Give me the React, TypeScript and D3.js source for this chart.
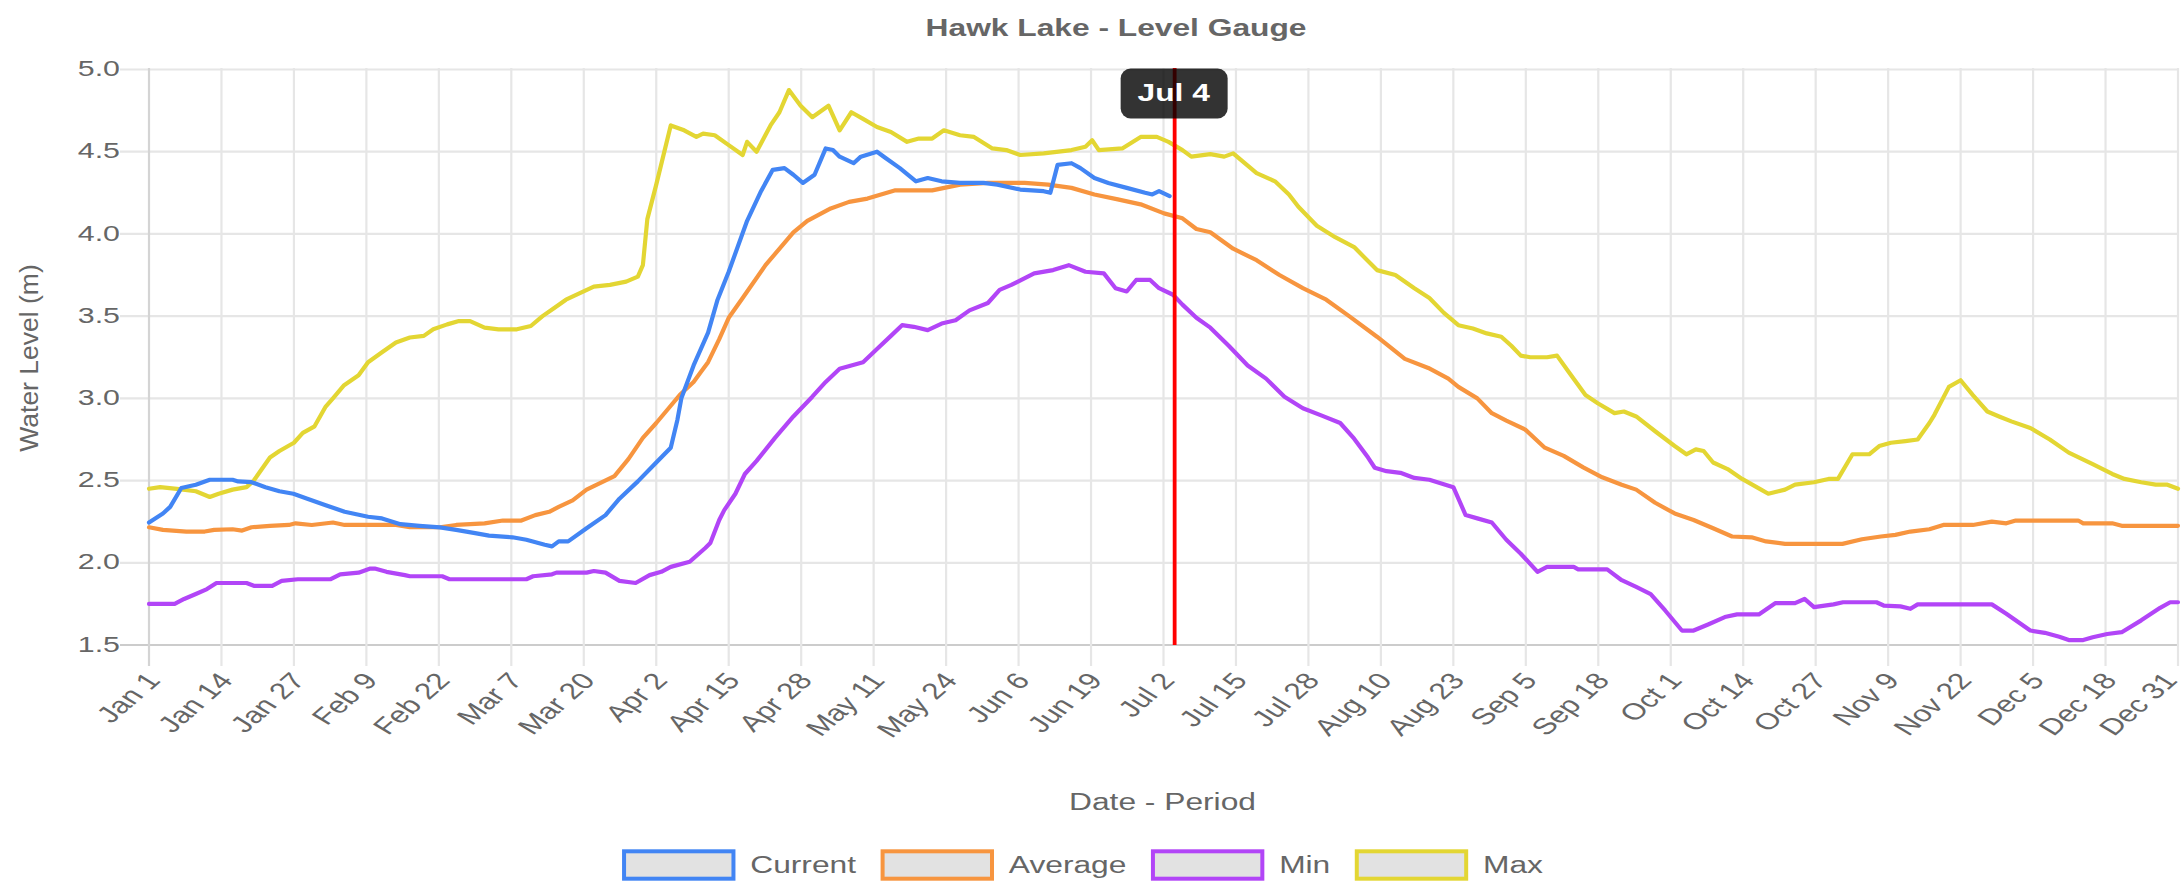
import React, { useMemo } from "react";
import * as d3 from "d3";

// ---------------- data ----------------
const TITLE = "Hawk Lake - Level Gauge";
const X_TITLE = "Date - Period";
const Y_TITLE = "Water Level (m)";
const YEAR = 2021;
const X_TICK_LABELS = [
  "Jan 1", "Jan 14", "Jan 27", "Feb 9", "Feb 22", "Mar 7", "Mar 20", "Apr 2", "Apr 15", "Apr 28",
  "May 11", "May 24", "Jun 6", "Jun 19", "Jul 2", "Jul 15", "Jul 28", "Aug 10", "Aug 23", "Sep 5",
  "Sep 18", "Oct 1", "Oct 14", "Oct 27", "Nov 9", "Nov 22", "Dec 5", "Dec 18", "Dec 31",
];
const Y_TICKS = [1.5, 2.0, 2.5, 3.0, 3.5, 4.0, 4.5, 5.0];
const Y_DOMAIN = [1.5, 5.0];
const MARKER_LABEL = "Jul 4";
const SERIES_NAMES = ["Current", "Average", "Min", "Max"];
const SERIES_COLORS = ["#4285f4", "#f7953f", "#b245f7", "#e3d633"];

// [day of year (0 = Jan 1), water level m]
const CURRENT: [number, number][] = [
  [0, 2.245], [2.5, 2.3], [3.8, 2.34], [5.8, 2.455], [8.4, 2.475], [10.9, 2.505], [15, 2.505], [16, 2.495],
  [18.4, 2.49], [20.9, 2.46], [23.4, 2.435], [25.9, 2.42], [28.4, 2.39], [31.7, 2.35], [35.1, 2.31], [39.3, 2.28],
  [41.8, 2.27], [45.1, 2.235], [48.5, 2.225], [52.2, 2.215], [55.1, 2.2], [58.5, 2.18], [61, 2.165], [65.2, 2.155],
  [67.7, 2.14], [71, 2.11], [72.3, 2.1], [73.5, 2.13], [75.2, 2.13], [78.5, 2.21], [81.9, 2.29], [84.4, 2.39],
  [87.7, 2.495], [91, 2.61], [93.6, 2.7], [94.8, 2.87], [95.5, 3.0], [97.7, 3.2], [100.3, 3.4], [102, 3.6],
  [104, 3.77], [107.3, 4.08], [109.8, 4.26], [111.9, 4.39], [114, 4.4], [115.6, 4.36], [117.3, 4.31], [119.4, 4.36],
  [121.4, 4.52], [122.7, 4.51], [123.9, 4.47], [126.4, 4.43], [127.7, 4.47], [130.6, 4.5], [132.2, 4.46], [134.7, 4.4],
  [137.6, 4.32], [139.7, 4.34], [142.2, 4.32], [145.5, 4.31], [149.7, 4.31], [152.2, 4.3], [156.3, 4.27], [160.5, 4.26],
  [161.7, 4.25], [163, 4.42], [165.5, 4.43], [167.1, 4.4], [169.6, 4.34], [172.1, 4.31], [175.4, 4.28], [178.7, 4.25],
  [180, 4.24], [181.2, 4.26], [183.1, 4.23],
];

const AVERAGE: [number, number][] = [
  [0, 2.216], [2.5, 2.2], [6.7, 2.19], [10, 2.19], [11.7, 2.2], [15, 2.204], [16.7, 2.196], [18.4, 2.216],
  [21.7, 2.225], [25.1, 2.23], [26.3, 2.24], [29.2, 2.23], [33, 2.245], [35.1, 2.23], [44.3, 2.23], [46.8, 2.216],
  [52.2, 2.216], [55.1, 2.23], [60.2, 2.24], [63.5, 2.257], [66.8, 2.257], [69.3, 2.29], [71.8, 2.31], [73.5, 2.34],
  [76, 2.38], [78.5, 2.445], [81, 2.486], [83.5, 2.527], [86, 2.63], [88.6, 2.76], [91, 2.85], [93.6, 2.955],
  [95.2, 3.02], [97.7, 3.1], [99, 3.16], [100.3, 3.22], [102.3, 3.36], [104, 3.49], [106.5, 3.61], [110.6, 3.81],
  [115.6, 4.01], [118.1, 4.08], [122.3, 4.155], [125.6, 4.195], [128.9, 4.215], [133.9, 4.265], [140.5, 4.265], [145.5, 4.3],
  [150.5, 4.31], [157.1, 4.31], [161.3, 4.3], [165.5, 4.28], [169.6, 4.24], [173.8, 4.21], [177.9, 4.18], [182.1, 4.125],
  [185.4, 4.095], [187.9, 4.03], [190.4, 4.01], [194.5, 3.91], [198.7, 3.84], [202.8, 3.75], [207, 3.67], [211.2, 3.6],
  [215.3, 3.5], [220.3, 3.375], [225.3, 3.24], [229.5, 3.185], [233.1, 3.12], [234.9, 3.07], [238.3, 3.0], [240.9, 2.91],
  [243.5, 2.865], [246.9, 2.81], [250.4, 2.7], [253.8, 2.65], [257.3, 2.58], [260.7, 2.52], [264.2, 2.475], [266.8, 2.445],
  [270.2, 2.365], [273.7, 2.3], [277.1, 2.26], [280.6, 2.21], [284, 2.16], [287.5, 2.155], [290.1, 2.13], [293.5, 2.115],
  [303.8, 2.115], [307.3, 2.143], [310.7, 2.16], [313.3, 2.17], [316, 2.19], [319.4, 2.204], [321.9, 2.23], [327.2, 2.23],
  [330.6, 2.25], [333.2, 2.24], [334.9, 2.257], [346.1, 2.257], [347, 2.24], [352.2, 2.24], [353.9, 2.225], [364, 2.225],
];

const MIN: [number, number][] = [
  [0, 1.75], [4.6, 1.75], [6.3, 1.78], [8.4, 1.81], [10.4, 1.84], [12.1, 1.877], [17.5, 1.877], [18.8, 1.86],
  [22.1, 1.86], [23.8, 1.89], [26.7, 1.9], [32.6, 1.9], [34.3, 1.93], [37.6, 1.94], [39.7, 1.965], [40.5, 1.965],
  [42.6, 1.945], [45.9, 1.925], [46.8, 1.918], [52.6, 1.918], [53.9, 1.9], [67.7, 1.9], [68.9, 1.918], [72.3, 1.93],
  [73.1, 1.94], [78.5, 1.94], [79.8, 1.95], [81.9, 1.94], [84.4, 1.89], [87.3, 1.877], [89.8, 1.925], [91.9, 1.945],
  [93.6, 1.975], [97, 2.006], [99.8, 2.09], [100.7, 2.12], [102.3, 2.26], [103.2, 2.32], [105.2, 2.42], [106.9, 2.54],
  [109, 2.62], [112.3, 2.76], [115.6, 2.89], [119, 3.01], [121.4, 3.1], [123.9, 3.18], [128.1, 3.22], [130.6, 3.3],
  [133.1, 3.38], [135.1, 3.445], [137.2, 3.435], [139.7, 3.415], [142.2, 3.455], [144.7, 3.475], [147.2, 3.535], [150.5, 3.58],
  [152.6, 3.66], [154.7, 3.69], [158.8, 3.76], [162.2, 3.78], [165, 3.81], [168, 3.77], [171.3, 3.76], [173.4, 3.67],
  [175.4, 3.65], [177.1, 3.72], [179.6, 3.72], [181.2, 3.67], [183.7, 3.63], [185.4, 3.57], [187.9, 3.49], [190.4, 3.43],
  [193.7, 3.32], [197.1, 3.2], [200.4, 3.12], [203.7, 3.01], [207, 2.94], [210.4, 2.895], [213.7, 2.85], [216.2, 2.755],
  [218.7, 2.64], [219.9, 2.578], [222, 2.557], [224.5, 2.547], [227, 2.516], [229.7, 2.505], [234, 2.46], [236.2, 2.29],
  [238.3, 2.27], [240.9, 2.245], [243.5, 2.14], [246.1, 2.055], [249.1, 1.945], [250.8, 1.975], [255.6, 1.975], [256.4, 1.96],
  [261.6, 1.96], [264.2, 1.894], [266.8, 1.853], [269.4, 1.81], [272, 1.71], [275, 1.588], [277.1, 1.588], [279.7, 1.625],
  [282.7, 1.67], [284.9, 1.686], [288.8, 1.686], [291.8, 1.755], [295.3, 1.755], [297, 1.78], [298.7, 1.73], [302.2, 1.747],
  [303.9, 1.76], [309.9, 1.76], [311.2, 1.74], [314.2, 1.735], [316, 1.72], [317.3, 1.747], [330.6, 1.747], [333.2, 1.69],
  [337.5, 1.588], [340.1, 1.574], [342.7, 1.55], [344.4, 1.53], [347, 1.53], [348.7, 1.547], [351.3, 1.567], [353.9, 1.578],
  [357.4, 1.65], [360.8, 1.726], [362.6, 1.76], [364, 1.76],
];

const MAX: [number, number][] = [
  [0, 2.45], [2, 2.46], [5, 2.45], [8.4, 2.435], [10.9, 2.4], [12.5, 2.42], [15, 2.445], [17.5, 2.46],
  [18.8, 2.5], [21.7, 2.64], [23.4, 2.68], [26, 2.73], [27.6, 2.79], [29.7, 2.83], [31.7, 2.95], [33, 3.0],
  [35, 3.08], [37.6, 3.14], [39.3, 3.22], [41.8, 3.28], [44.3, 3.34], [46.8, 3.37], [49.3, 3.38], [51, 3.42],
  [53.5, 3.45], [55.6, 3.47], [57.6, 3.47], [60.2, 3.43], [62.7, 3.42], [66, 3.42], [68.5, 3.44], [70.6, 3.5],
  [72.7, 3.55], [74.8, 3.6], [77.3, 3.64], [79.8, 3.68], [82.7, 3.69], [85.6, 3.71], [87.7, 3.74], [88.6, 3.81],
  [89.4, 4.09], [91, 4.3], [93.6, 4.66], [96, 4.63], [98.2, 4.59], [99.4, 4.61], [101.5, 4.6], [104, 4.54],
  [106.5, 4.48], [107.3, 4.56], [109, 4.5], [111.5, 4.66], [113.1, 4.74], [114.8, 4.875], [116.9, 4.78], [119, 4.71],
  [121.9, 4.78], [123.9, 4.63], [126, 4.74], [128.1, 4.7], [130.6, 4.65], [133.1, 4.62], [136, 4.56], [138.1, 4.58],
  [140.5, 4.58], [142.6, 4.63], [145.5, 4.6], [148, 4.59], [151.3, 4.52], [153.8, 4.51], [156.3, 4.48], [160.5, 4.49],
  [165.5, 4.51], [168, 4.53], [169.2, 4.57], [170.4, 4.51], [174.6, 4.52], [177.9, 4.59], [180.8, 4.59], [182.9, 4.56],
  [185.4, 4.51], [187, 4.47], [190.4, 4.485], [192.9, 4.47], [194.5, 4.49], [198.7, 4.37], [202, 4.32], [204.5, 4.24],
  [206.2, 4.165], [209.5, 4.05], [212.8, 3.98], [216.2, 3.92], [220.3, 3.78], [223.6, 3.75], [227, 3.67], [229.7, 3.61],
  [232.3, 3.52], [234.9, 3.445], [237.5, 3.425], [240, 3.395], [242.6, 3.375], [244.4, 3.32], [246.1, 3.26], [247.8, 3.25],
  [250.8, 3.25], [252.6, 3.26], [254.7, 3.16], [257.7, 3.02], [259.9, 2.97], [262.9, 2.91], [264.6, 2.92], [266.8, 2.89],
  [270.2, 2.8], [273.7, 2.71], [275.8, 2.66], [277.5, 2.69], [278.9, 2.68], [280.6, 2.61], [283.2, 2.57], [285.8, 2.51],
  [289.2, 2.445], [290.5, 2.42], [293.5, 2.445], [295.3, 2.475], [298.7, 2.49], [301.3, 2.51], [303, 2.51], [305.6, 2.66],
  [308.6, 2.66], [310.4, 2.71], [312.5, 2.73], [315.1, 2.74], [317.3, 2.75], [319.4, 2.85], [320.3, 2.9], [322.9, 3.07],
  [325, 3.11], [327.2, 3.02], [329.8, 2.92], [331.9, 2.89], [334.1, 2.86], [337.5, 2.82], [341, 2.75], [344.4, 2.67],
  [348.7, 2.6], [352.2, 2.54], [354.4, 2.51], [357.4, 2.49], [360, 2.475], [362.1, 2.475], [364, 2.45],
];

const SERIES_DATA = [CURRENT, AVERAGE, MIN, MAX];

// ---------------- layout ----------------
const W = 2184;
const H = 882;
const M = { left: 149, right: 2178, top: 69.5, bottom: 645 };
const SX = 1.38; // horizontal stretch of the original rendering
const FONT = "'Liberation Sans', Arial, Helvetica, sans-serif";
const TXT = "#666666";

const parseDay = d3.timeParse("%b %d %Y");
const yearStart = new Date(YEAR, 0, 1);
const dayOf = (label: string) => d3.timeDay.count(yearStart, parseDay(`${label} ${YEAR}`) as Date);

function measure(text: string, size: number, weight = "normal") {
  if (typeof document === "undefined") return text.length * size * 0.55;
  const c = document.createElement("canvas").getContext("2d");
  if (!c) return text.length * size * 0.55;
  c.font = `${weight} ${size}px 'Liberation Sans', Arial, sans-serif`;
  return c.measureText(text).width;
}

export default function App() {
  const x = useMemo(() => d3.scaleLinear().domain([0, 364]).range([M.left, M.right]), []);
  const y = useMemo(() => d3.scaleLinear().domain(Y_DOMAIN).range([M.bottom, M.top]), []);
  const line = d3
    .line<[number, number]>()
    .x((d) => x(d[0]))
    .y((d) => y(d[1]))
    .curve(d3.curveLinear);

  const markerX = x(dayOf(MARKER_LABEL));

  // legend layout
  const LEG_FONT = 23;
  const BOX_W = 113.4;
  const BOX_H = 31.4;
  const BOX_GAP = 14.8;
  const ITEM_GAP = 24.5;
  const widths = SERIES_NAMES.map((n) => measure(n, LEG_FONT) * SX);
  const total = widths.reduce((a, w) => a + BOX_W + BOX_GAP + w, 0) + ITEM_GAP * (SERIES_NAMES.length - 1);
  let cursor = 1082.5 - total / 2;
  const legendItems = SERIES_NAMES.map((n, i) => {
    const item = { name: n, color: SERIES_COLORS[i], x: cursor, w: widths[i] };
    cursor += BOX_W + BOX_GAP + widths[i] + ITEM_GAP;
    return item;
  });

  const drawOrder = [3, 2, 1, 0];

  return (
    <svg
      width={W}
      height={H}
      style={{ position: "absolute", left: 0, top: 0, background: "#ffffff", display: "block" }}
      fontFamily={FONT}
    >
      <rect x={0} y={0} width={W} height={H} fill="#ffffff" />

      {/* horizontal grid */}
      {Y_TICKS.map((t) => (
        <line
          key={`hg${t}`}
          x1={120}
          x2={M.right}
          y1={y(t)}
          y2={y(t)}
          stroke={t === Y_DOMAIN[0] ? "#cccccc" : "#e6e6e6"}
          strokeWidth={2.2}
        />
      ))}
      {/* vertical grid */}
      {X_TICK_LABELS.map((l, i) => (
        <line
          key={`vg${l}`}
          x1={x(dayOf(l))}
          x2={x(dayOf(l))}
          y1={M.top - 1.5}
          y2={M.bottom + 21}
          stroke={i === 0 ? "#d4d4d4" : "#e6e6e6"}
          strokeWidth={2.2}
        />
      ))}

      {/* y tick labels */}
      {Y_TICKS.map((t) => (
        <text
          key={`yt${t}`}
          transform={`translate(120,${y(t) - 1}) scale(${SX},1)`}
          textAnchor="end"
          dy="0.35em"
          fontSize={22}
          fill={TXT}
        >
          {d3.format(".1f")(t)}
        </text>
      ))}

      {/* x tick labels */}
      {X_TICK_LABELS.map((l) => (
        <text
          key={`xt${l}`}
          transform={`translate(${Math.min(x(dayOf(l)) + 4, W - 14)},676) scale(${SX},1) rotate(-50)`}
          textAnchor="end"
          dy="0.35em"
          fontSize={23}
          fill={TXT}
        >
          {l}
        </text>
      ))}

      {/* series */}
      {drawOrder.map((i) => (
        <path
          key={SERIES_NAMES[i]}
          d={line(SERIES_DATA[i]) || ""}
          fill="none"
          stroke={SERIES_COLORS[i]}
          strokeWidth={4.2}
          strokeLinejoin="round"
          strokeLinecap="round"
        />
      ))}

      {/* today marker */}
      <line x1={markerX} x2={markerX} y1={M.top - 1.5} y2={M.bottom} stroke="#ff0000" strokeWidth={3.8} />

      {/* tooltip */}
      <rect x={markerX - 54} y={68.5} width={107} height={50} rx={10} ry={10} fill="rgba(0,0,0,0.8)" />
      <text
        transform={`translate(${markerX - 1},101) scale(${SX},1)`}
        textAnchor="middle"
        fontSize={23}
        fontWeight="bold"
        fill="#ffffff"
      >
        {MARKER_LABEL}
      </text>

      {/* title */}
      <text transform={`translate(1116,35.5) scale(${SX},1)`} textAnchor="middle" fontSize={23} fontWeight="bold" fill={TXT}>
        {TITLE}
      </text>

      {/* axis titles */}
      <text transform={`translate(1162.5,810) scale(${SX},1)`} textAnchor="middle" fontSize={23} fill={TXT}>
        {X_TITLE}
      </text>
      <text transform={`translate(29,358) rotate(-90)`} textAnchor="middle" dy="0.35em" fontSize={26.5} fill={TXT}>
        {Y_TITLE}
      </text>

      {/* legend */}
      {legendItems.map((it) => (
        <g key={`lg${it.name}`}>
          <rect
            x={it.x + 2}
            y={849.3 + 2}
            width={BOX_W - 4}
            height={BOX_H - 4}
            fill="#e2e2e2"
            stroke={it.color}
            strokeWidth={4}
          />
          <text
            transform={`translate(${it.x + BOX_W + BOX_GAP},872.5) scale(${SX},1)`}
            fontSize={LEG_FONT}
            fill={TXT}
          >
            {it.name}
          </text>
        </g>
      ))}
    </svg>
  );
}
